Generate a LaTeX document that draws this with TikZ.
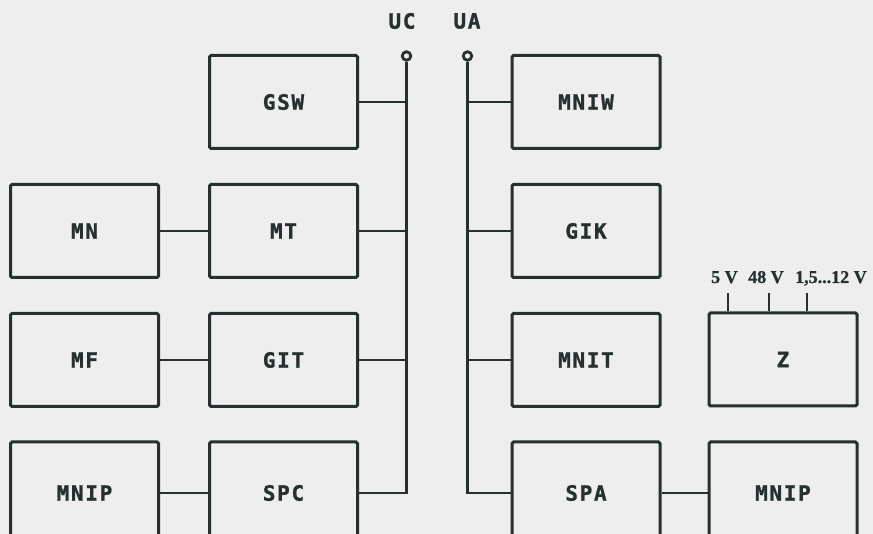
\documentclass[tikz,border=0pt]{standalone}
\usepackage{fontspec}
\newfontfamily\lbl{DejaVu Sans Mono Bold}[LetterSpace=8, FakeBold=1.2]
\newfontfamily\vfont{Liberation Serif Bold}[FakeBold=0.8]
\definecolor{bg}{HTML}{EEEEEE}
\definecolor{ink}{HTML}{263030}
\begin{document}
\begin{tikzpicture}[x=1pt,y=-1pt,
  box/.style={draw=ink, line width=3pt, rounded corners=1.5pt, minimum width=148, minimum height=93,
    inner sep=0pt, text=ink, font=\lbl\fontsize{21}{21}\selectfont},
  lowbox/.style={box, minimum height=102},
  wire/.style={draw=ink, line width=2.4pt},
  term/.style={circle, draw=ink, fill=bg, line width=2.8pt, inner sep=0pt, minimum size=8.5},
  bus/.style={text=ink, font=\lbl\fontsize{21}{21}\selectfont},
  volt/.style={text=ink, anchor=base west, inner sep=0pt, font=\vfont\fontsize{18}{18}\selectfont}]
\fill[bg] (0,0) rectangle (873,534);
\clip (0,0) rectangle (873,534);
\useasboundingbox (0,0) rectangle (873,534);
% boxes
\node[box] (GSW) at (283.5,102) {GSW};
\node[box] (MN) at (84.5,231) {MN};
\node[box] (MT) at (283.5,231) {MT};
\node[box] (MF) at (84.5,360) {MF};
\node[box] (GIT) at (283.5,360) {GIT};
\node[lowbox] (MNIPa) at (84.5,493) {MNIP};
\node[lowbox] (SPC) at (283.5,493) {SPC};
\node[box] (MNIW) at (586,102) {MNIW};
\node[box] (GIK) at (586,231) {GIK};
\node[box] (MNIT) at (586,360) {MNIT};
\node[lowbox] (SPA) at (586,493) {SPA};
\node[box] (Z) at (783,359.5) {Z};
\node[lowbox] (MNIPb) at (783,493) {MNIP};
% bus labels and terminals
\node[bus] (UC) at (402,21) {UC};
\node[bus] (UA) at (467,21) {UA};
\node[term] (uct) at (406.5,56) {};
\node[term] (uat) at (467.5,56) {};
\coordinate (ucb) at (uct |- SPC.east);
\coordinate (uab) at (uat |- SPA.west);
\draw[wire] (uct.south) -- (ucb) -- (SPC.east);
\draw[wire] (uat.south) -- (uab) -- (SPA.west);
% connectors to buses
\draw[wire] (GSW.east) -- (GSW.east -| uct);
\draw[wire] (MT.east) -- (MT.east -| uct);
\draw[wire] (GIT.east) -- (GIT.east -| uct);
\draw[wire] (MNIW.west) -- (MNIW.west -| uat);
\draw[wire] (GIK.west) -- (GIK.west -| uat);
\draw[wire] (MNIT.west) -- (MNIT.west -| uat);
% box to box
\draw[wire] (MN.east) -- (MT.west);
\draw[wire] (MF.east) -- (GIT.west);
\draw[wire] (MNIPa.east) -- (SPC.west);
\draw[wire] (SPA.east) -- (MNIPb.west);
% supply voltages of Z
\node[volt] (v1) at (711,283) {5 V};
\node[volt] (v2) at (748,283) {48 V};
\node[volt] (v3) at (795,283) {1,5...12 V};
\coordinate (t1) at (728,293);
\coordinate (t2) at (769,293);
\coordinate (t3) at (807,293);
\draw[wire, line width=1.8pt] (t1) -- (t1 |- Z.north);
\draw[wire, line width=1.8pt] (t2) -- (t2 |- Z.north);
\draw[wire, line width=1.8pt] (t3) -- (t3 |- Z.north);
\end{tikzpicture}
\end{document}
